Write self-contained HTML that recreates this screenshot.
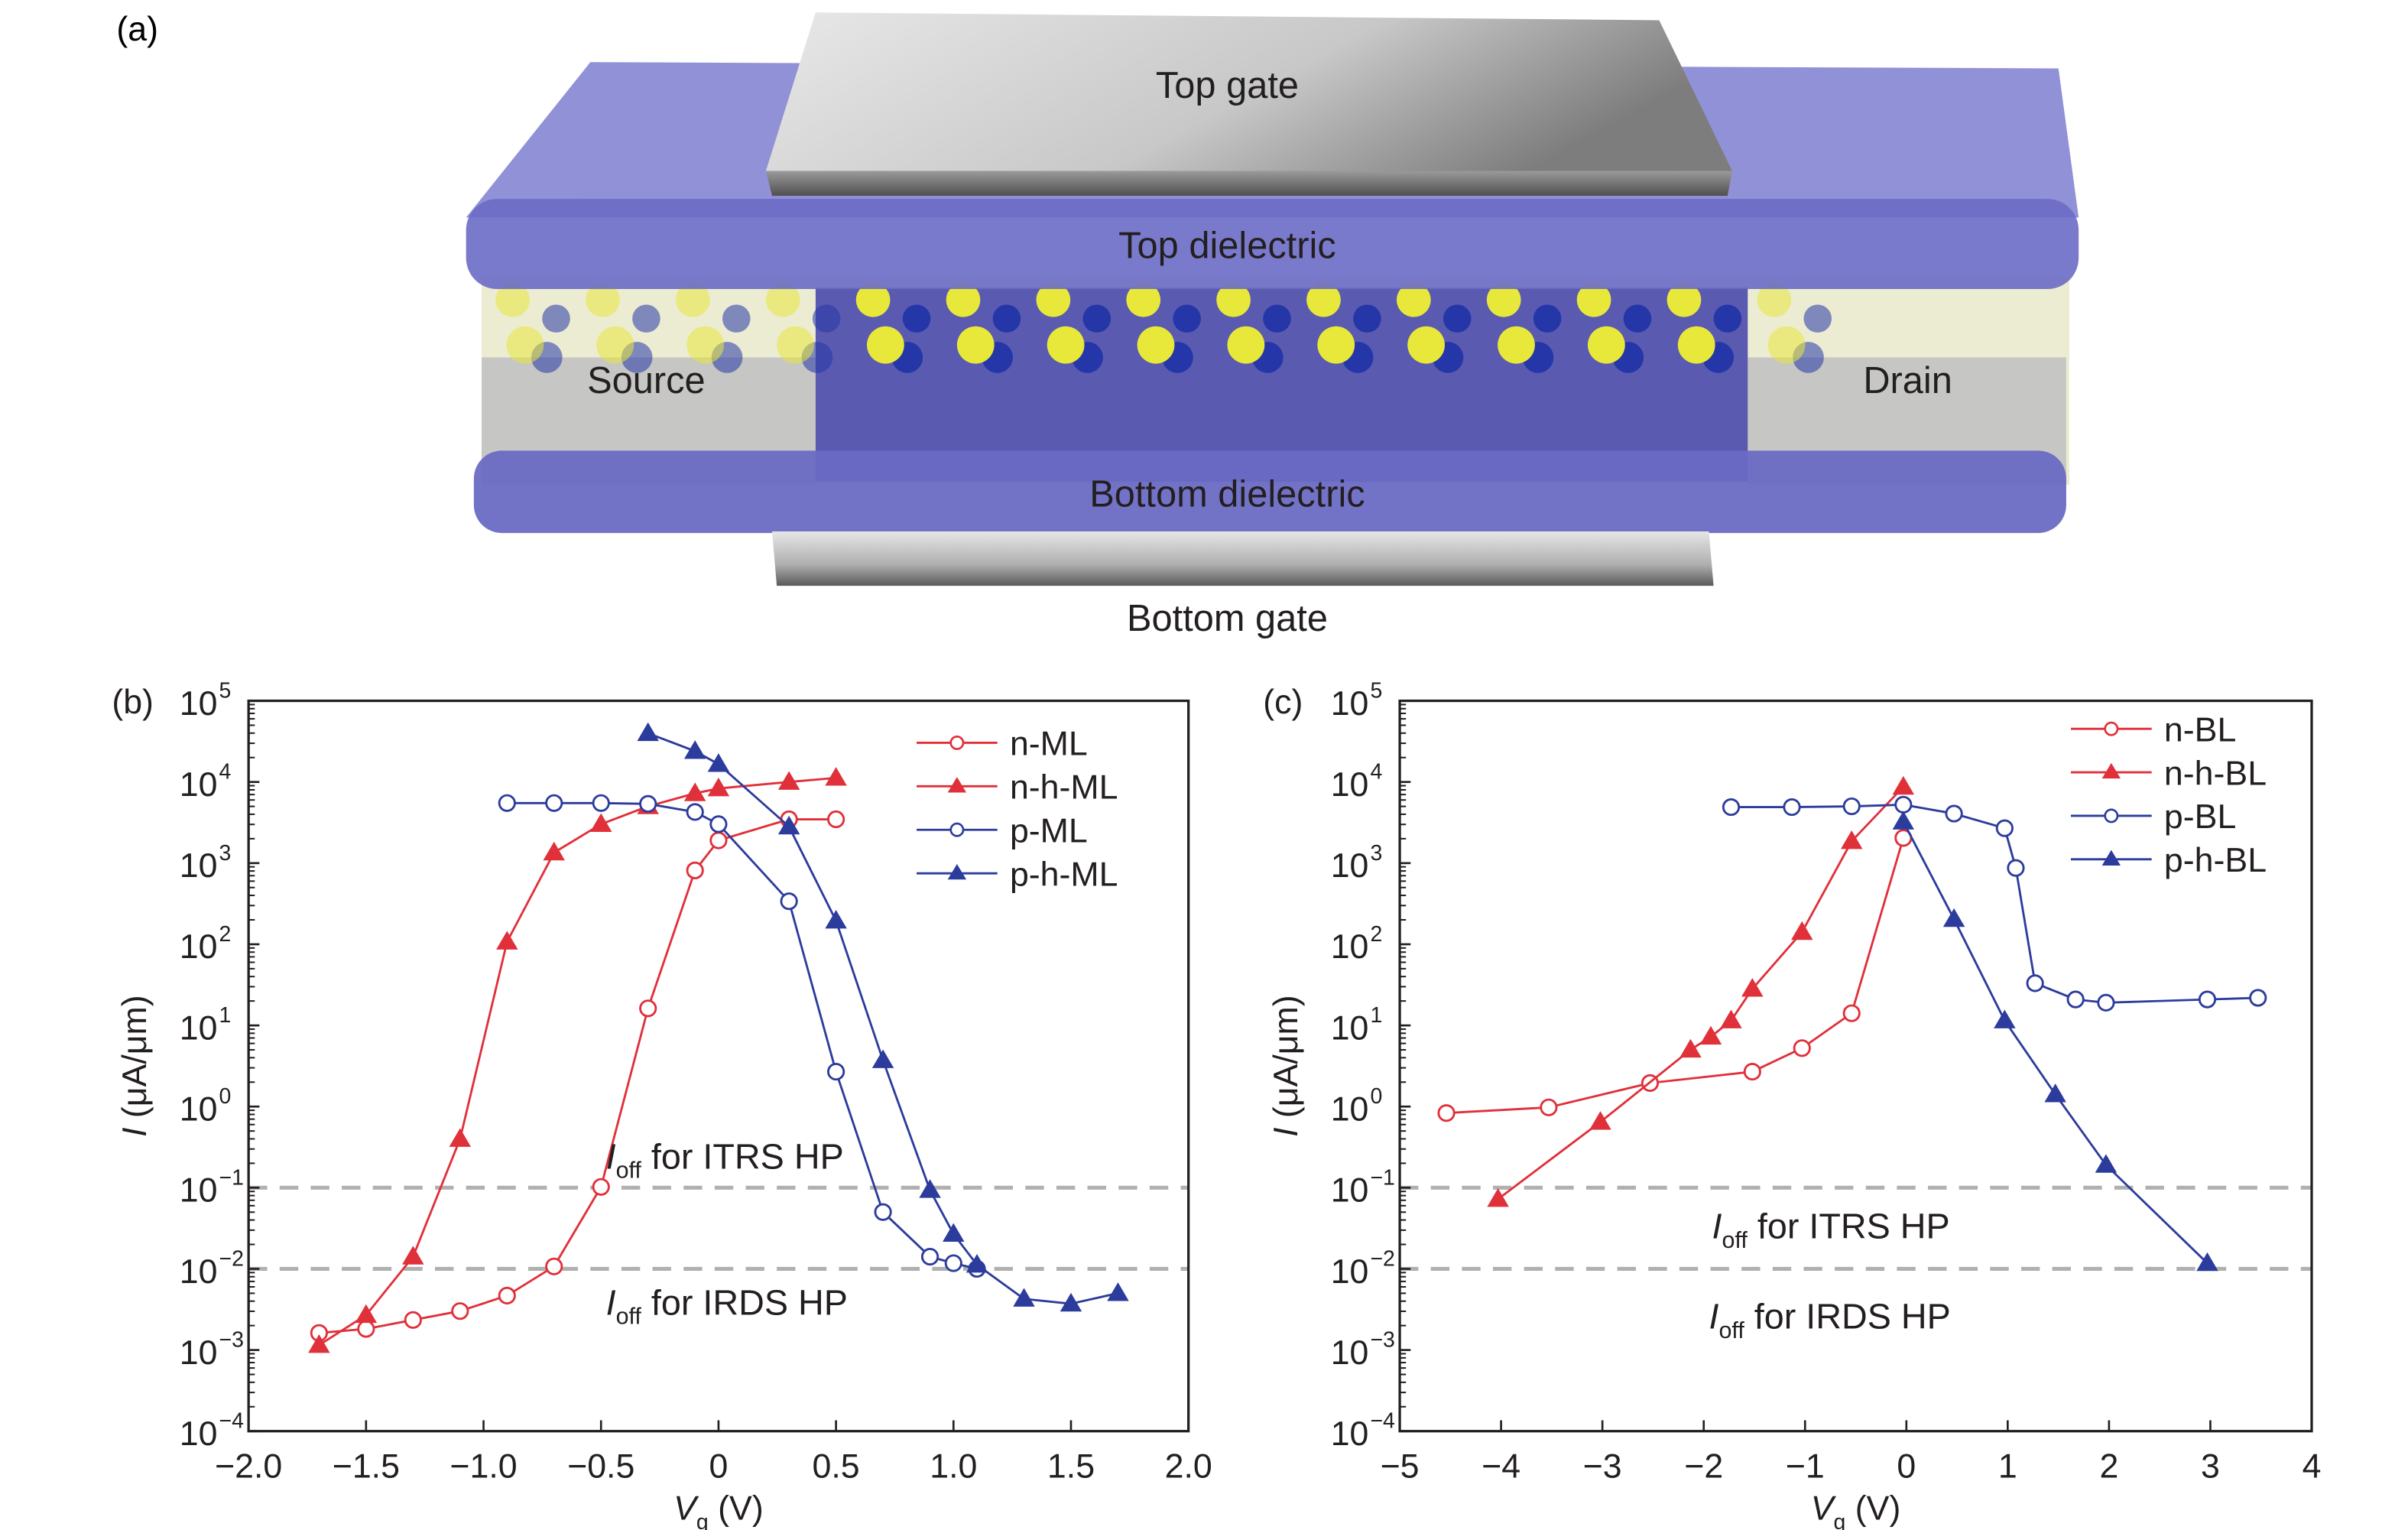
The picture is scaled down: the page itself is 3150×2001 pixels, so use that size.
<!DOCTYPE html>
<html><head><meta charset="utf-8"><style>
html,body{margin:0;padding:0;background:#fff;}
svg{display:block;font-family:"Liberation Sans",sans-serif;}
</style></head><body>
<svg id="fig" width="3150" height="2001" viewBox="0 0 1550 984.6" xmlns="http://www.w3.org/2000/svg">
<defs>
<linearGradient id="gtop" x1="0" y1="0" x2="1" y2="0.3"><stop offset="0" stop-color="#e8e8e8"/><stop offset="0.6" stop-color="#c8c8c8"/><stop offset="1" stop-color="#7d7d7d"/></linearGradient>
<linearGradient id="gedge" x1="0" y1="0" x2="0" y2="1"><stop offset="0" stop-color="#9a9a9a"/><stop offset="1" stop-color="#505050"/></linearGradient>
<linearGradient id="gbot" x1="0" y1="0" x2="0" y2="1"><stop offset="0" stop-color="#e6e6e6"/><stop offset="0.6" stop-color="#b0b0b0"/><stop offset="1" stop-color="#5a5a5a"/></linearGradient>
</defs>
<g id="panel-a">
<text x="75" y="26" font-size="22">(a)</text>
<polygon points="380,40 1325,44 1338,140 300,140" fill="#7e7ed0" opacity="0.85"/>
<rect x="310" y="178" width="1022" height="134" fill="#ececd2"/>
<rect x="310" y="230" width="215" height="82" fill="#a8a8b8" opacity="0.55"/>
<rect x="1125" y="230" width="205" height="82" fill="#a8a8b8" opacity="0.55"/>
<rect x="525" y="185" width="600" height="125" fill="#5a5ab0"/>
<g id="atoms"></g>
<rect x="305" y="290" width="1025" height="53" rx="18" fill="#6a6ac4" opacity="0.95"/>
<polygon points="497,342 1100,342 1103,377 500,377" fill="url(#gbot)"/>
<rect x="300" y="128" width="1038" height="58" rx="20" fill="#6b6bc6" opacity="0.9"/>
<polygon points="525,8 1068,13 1115,110 493,110" fill="url(#gtop)"/>
<polygon points="493,110 1115,110 1112,126 497,126" fill="url(#gedge)"/>
<g font-size="24" fill="#231f20" text-anchor="middle">
<text x="790" y="63">Top gate</text>
<text x="790" y="166">Top dielectric</text>
<text x="416" y="253">Source</text>
<text x="1228" y="253">Drain</text>
<text x="790" y="326">Bottom dielectric</text>
<text x="790" y="406">Bottom gate</text>
</g>
</g>
<g id="panel-b"></g>
<g id="panel-c"></g>
</svg>
<script>
// ----- Panel (b) data -----
const bSeriesNames = ["n-ML","n-h-ML","p-ML","p-h-ML"];
const bX_nML  = [-1.7,-1.5,-1.3,-1.1,-0.9,-0.7,-0.5,-0.3,-0.1,0,0.3,0.5];
const bY_nML  = [-2.79,-2.74,-2.63,-2.52,-2.33,-1.97,-0.99,1.21,2.91,3.28,3.54,3.54];
const bX_nhML = [-1.7,-1.5,-1.3,-1.1,-0.9,-0.7,-0.5,-0.3,-0.1,0,0.3,0.5];
const bY_nhML = [-2.94,-2.57,-1.85,-0.4,2.03,3.13,3.48,3.7,3.86,3.92,4.0,4.05];
const bX_pML  = [-0.9,-0.7,-0.5,-0.3,-0.1,0,0.3,0.5,0.7,0.9,1.0,1.1];
const bY_pML  = [3.74,3.74,3.74,3.73,3.63,3.48,2.53,0.43,-1.30,-1.85,-1.93,-2.0];
const bX_phML = [-0.3,-0.1,0,0.3,0.5,0.7,0.9,1.0,1.1,1.3,1.5,1.7];
const bY_phML = [4.6,4.38,4.22,3.45,2.29,0.57,-1.03,-1.57,-1.95,-2.37,-2.43,-2.3];
const bXTicks = [-2.0,-1.5,-1.0,-0.5,0,0.5,1.0,1.5,2.0];
const bXTickLabels = ["\u22122.0","\u22121.5","\u22121.0","\u22120.5","0","0.5","1.0","1.5","2.0"];
// ----- Panel (c) data -----
const cSeriesNames = ["n-BL","n-h-BL","p-BL","p-h-BL"];
const cX_nBL  = [-4.54,-3.53,-2.53,-1.52,-1.03,-0.54,-0.03];
const cY_nBL  = [-0.08,-0.01,0.29,0.43,0.72,1.15,3.31];
const cX_nhBL = [-4.03,-3.02,-2.13,-1.93,-1.73,-1.52,-1.03,-0.54,-0.03];
const cY_nhBL = [-1.14,-0.19,0.70,0.86,1.06,1.45,2.15,3.27,3.94];
const cX_pBL  = [-1.73,-1.13,-0.54,-0.03,0.47,0.97,1.08,1.27,1.67,1.97,2.97,3.47];
const cY_pBL  = [3.69,3.69,3.70,3.72,3.61,3.43,2.94,1.52,1.32,1.28,1.32,1.34];
const cX_phBL = [-0.03,0.47,0.97,1.47,1.97,2.97];
const cY_phBL = [3.51,2.31,1.06,0.15,-0.72,-1.93];
const cXTicks = [-5,-4,-3,-2,-1,0,1,2,3,4];
const cXTickLabels = ["\u22125","\u22124","\u22123","\u22122","\u22121","0","1","2","3","4"];
const yDecades = [5,4,3,2,1,0,-1,-2,-3,-4];
const yExpLabels = ["5","4","3","2","1","0","\u22121","\u22122","\u22123","\u22124"];
const offLevels = [-1,-2];

const NS="http://www.w3.org/2000/svg";
const RED="#e0303a", BLUE="#2c3c9c";
function mk(parent,tag,attrs){const e=document.createElementNS(NS,tag);for(const k in attrs)e.setAttribute(k,attrs[k]);parent.appendChild(e);return e;}

// atoms
(function(){
 const g=document.getElementById('atoms');
 for(let i=0;i<15;i++){
  const x=330+i*58;
  const inner = x>525 && x<1110;
  const op = inner?1:0.55;
  const b1=mk(g,'circle',{cx:x+22,cy:230,r:10,fill:"#2436a8",opacity:op});
  
  const b2=mk(g,'circle',{cx:x+28,cy:205,r:9,fill:"#2436a8",opacity:op});
  
  const s1=mk(g,'circle',{cx:x,cy:193,r:11,fill:"#e8e83a",opacity:op});
  
  const s2=mk(g,'circle',{cx:x+8,cy:222,r:12,fill:"#e8e83a",opacity:op});
  
 }
})();

function panel(gid,label,L,R,T,B,xmin,xmax,xTicks,xLabels,series,legend){
 const g=document.getElementById(gid);
 const xs=v=>L+(v-xmin)/(xmax-xmin)*(R-L);
 const ys=l=>T+(5-l)*(B-T)/9;
 offLevels.forEach(l=>{const d=mk(g,'line',{x1:L,x2:R,y1:ys(l),y2:ys(l),stroke:"#b0b0b0","stroke-width":2.5,"stroke-dasharray":"12 8"});
  });
 const fr=mk(g,'rect',{x:L,y:T,width:R-L,height:B-T,fill:"none",stroke:"#231f20","stroke-width":1.6});
 
 yDecades.forEach((d,i)=>{
  const y=ys(d);
  const t=mk(g,'line',{x1:L,x2:L+7,y1:y,y2:y,stroke:"#231f20","stroke-width":1.3});
  
  if(d>-4){for(let m=2;m<=9;m++){const yy=ys(d-1+Math.log10(m));mk(g,'line',{x1:L,x2:L+4,y1:yy,y2:yy,stroke:"#231f20","stroke-width":1});}}
  const tx=mk(g,'text',{x:L-20,y:y+9,"font-size":22,"text-anchor":"end",fill:"#231f20"});
  
  tx.textContent="10";
  const sp=mk(g,'text',{x:L-19,y:y-2,"font-size":14,"text-anchor":"start",fill:"#231f20"});
  
  sp.textContent=yExpLabels[i];
 });
 xTicks.forEach((v,i)=>{
  const x=xs(v);
  const t=mk(g,'line',{x1:x,x2:x,y1:B,y2:B-7,stroke:"#231f20","stroke-width":1.3});
  
  const tx=mk(g,'text',{x:x,y:B+30,"font-size":22,"text-anchor":"middle",fill:"#231f20"});
  
  tx.textContent=xLabels[i];
 });
 const pl=mk(g,'text',{x:L-88,y:T+8,"font-size":22,fill:"#231f20"});
 
 pl.textContent=label;
 const yt=mk(g,'text',{x:0,y:0,"font-size":22,"text-anchor":"middle",fill:"#231f20",transform:`translate(${L-66},${(T+B)/2}) rotate(-90)`});
 
 yt.innerHTML='<tspan font-style="italic">I</tspan> (\u03bcA/\u03bcm)';
 const xt=mk(g,'text',{x:(L+R)/2,y:B+57,"font-size":22,"text-anchor":"middle",fill:"#231f20"});
 
 xt.innerHTML='<tspan font-style="italic">V</tspan><tspan font-size="14" dy="6">g</tspan><tspan dy="-6"> (V)</tspan>';
 series.forEach(s=>{
  const pts=s.x.map((v,i)=>xs(v)+","+ys(s.y[i])).join(" ");
  const ln=mk(g,'polyline',{points:pts,fill:"none",stroke:s.c,"stroke-width":1.4});
  
  s.x.forEach((v,i)=>{
   const cx=xs(v),cy=ys(s.y[i]);
   let m;
   if(s.tri) m=mk(g,'polygon',{points:`${cx},${cy-7} ${cx-7},${cy+5} ${cx+7},${cy+5}`,fill:s.c});
   else m=mk(g,'circle',{cx:cx,cy:cy,r:5,fill:"#fff",stroke:s.c,"stroke-width":1.4});
   
  });
 });
 series.forEach((s,i)=>{
  const y=legend.y+i*28, x0=legend.x;
  const lg=mk(g,'g',{});
  
  mk(lg,'line',{x1:x0,x2:x0+52,y1:y,y2:y,stroke:s.c,"stroke-width":1.4});
  const cx=x0+26;
  if(s.tri) mk(lg,'polygon',{points:`${cx},${y-6} ${cx-6},${y+4} ${cx+6},${y+4}`,fill:s.c});
  else mk(lg,'circle',{cx:cx,cy:y,r:4,fill:"#fff",stroke:s.c,"stroke-width":1.3});
  const t=mk(lg,'text',{x:x0+60,y:y+8,"font-size":22,fill:"#231f20"});
  t.textContent=s.name;
 });
 return {xs,ys,g};
}
const pb=panel('panel-b','(b)',160,765,451,921,-2,2,bXTicks,bXTickLabels,[
 {name:bSeriesNames[0],x:bX_nML,y:bY_nML,c:RED,tri:false},
 {name:bSeriesNames[1],x:bX_nhML,y:bY_nhML,c:RED,tri:true},
 {name:bSeriesNames[2],x:bX_pML,y:bY_pML,c:BLUE,tri:false},
 {name:bSeriesNames[3],x:bX_phML,y:bY_phML,c:BLUE,tri:true}],{x:590,y:478});
const pc=panel('panel-c','(c)',901,1488,451,921,-5,4,cXTicks,cXTickLabels,[
 {name:cSeriesNames[0],x:cX_nBL,y:cY_nBL,c:RED,tri:false},
 {name:cSeriesNames[1],x:cX_nhBL,y:cY_nhBL,c:RED,tri:true},
 {name:cSeriesNames[2],x:cX_pBL,y:cY_pBL,c:BLUE,tri:false},
 {name:cSeriesNames[3],x:cX_phBL,y:cY_phBL,c:BLUE,tri:true}],{x:1333,y:469});
function ioff(g,x,y,txt,name){
 const t=mk(g,'text',{x:x,y:y,"font-size":23,fill:"#231f20"});
 
 t.innerHTML='<tspan font-style="italic">I</tspan><tspan font-size="15" dy="6">off</tspan><tspan dy="-6"> '+txt+'</tspan>';
}
ioff(pb.g,390,752,'for ITRS HP','itrs-annotation');
ioff(pb.g,390,846,'for IRDS HP','irds-annotation');
ioff(pc.g,1102,797,'for ITRS HP','itrs-annotation');
ioff(pc.g,1100,855,'for IRDS HP','irds-annotation');
</script>
</body></html>
